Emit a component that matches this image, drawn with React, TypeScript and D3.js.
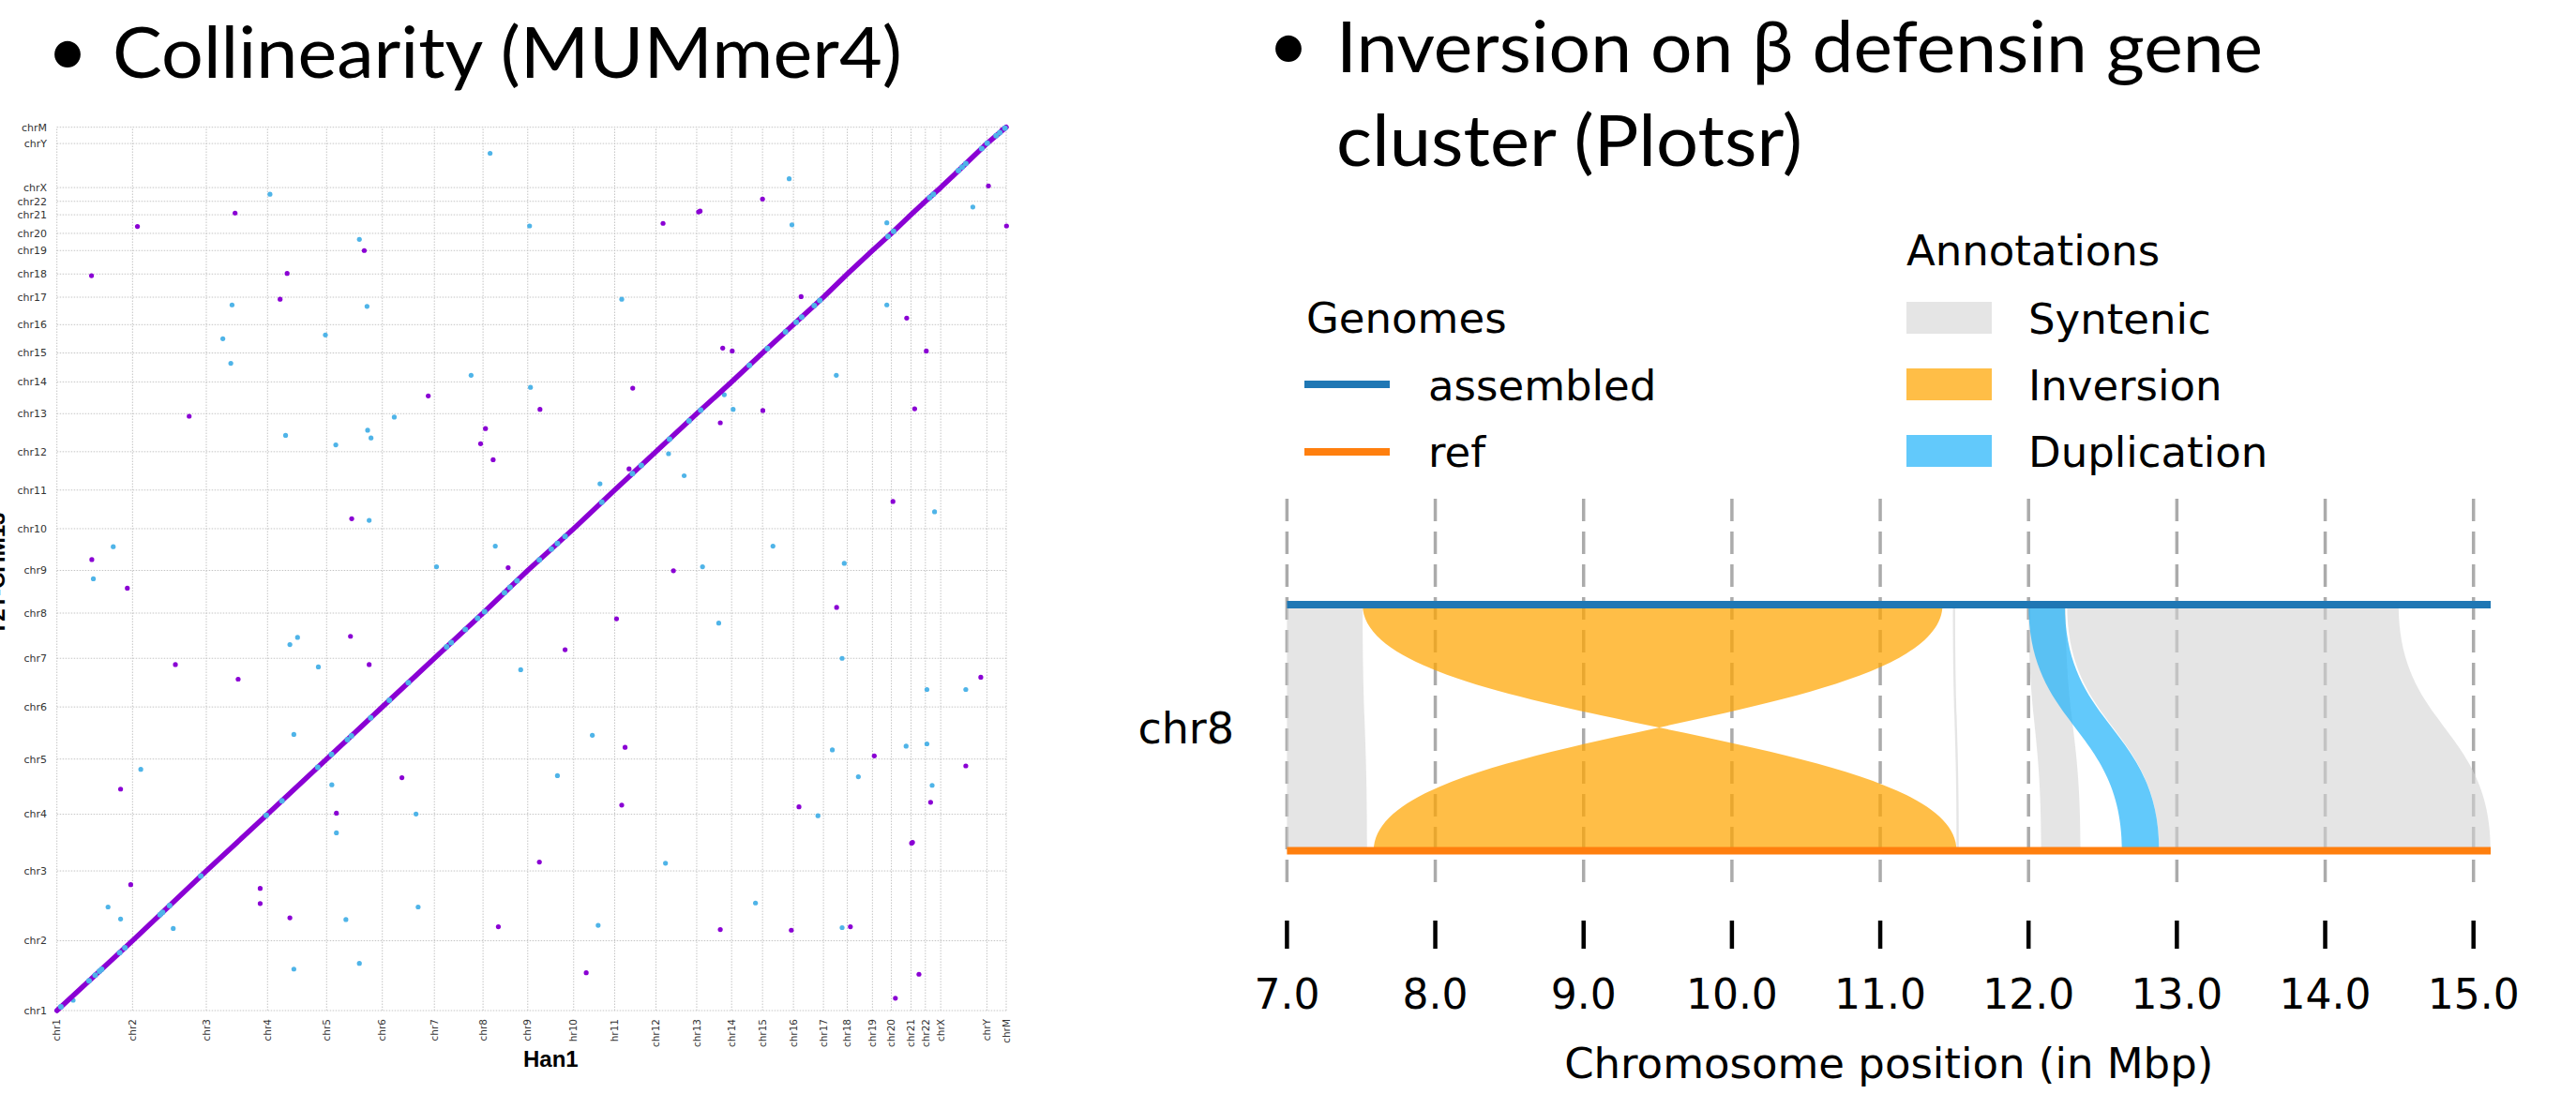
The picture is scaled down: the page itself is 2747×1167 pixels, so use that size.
import React from 'react';
import * as d3 from 'd3';

// ---------------- Left panel: MUMmer4 dot plot ----------------
const xChromLabels = ['chr1','chr2','chr3','chr4','chr5','chr6','chr7','chr8','chr9','hr10','hr11','chr12','chr13','chr14','chr15','chr16','chr17','chr18','chr19','chr20','chr21','chr22','chrX','chrY','chrM'];
const xChromLens = [247,241,200,193,182,170,159,146,150,134,135,133,114,101,101,98,78,82,62,64,47,50,151,63];
const yChromLabels = ['chr1','chr2','chr3','chr4','chr5','chr6','chr7','chr8','chr9','chr10','chr11','chr12','chr13','chr14','chr15','chr16','chr17','chr18','chr19','chr20','chr21','chr22','chrX','chrY','chrM'];
const yChromLens = [244,244,198,193,182,170,158,149,146,135,134,133,111,101,99,96,81,82,60,65,47,48,154,57];

// off-diagonal alignments, [Han1 Mb, reference Mb] (cumulative)
const blueDots: [number, number][] = [
  [696,2853],[988,2695],[572,2466],[1013,2461],[542,2348],[877,2361],[568,2262],[1102,2074],[747,2010],[1015,2028],[1026,2001],[911,1977],[1020,1713],[184,1621],[1240,1551],[119,1509],
  [761,1279],[786,1304],[854,1201],[774,965],[274,843],[898,789],[1173,687],[913,621],[167,362],[208,320],[380,287],[944,318],[1180,362],[988,165],[774,145],[53,36],
  [1415,2996],[1544,2742],[2392,2907],[2401,2746],[2711,2753],[2992,2808],[1845,2486],[2711,2466],[1353,2220],[1547,2178],[2546,2220],[2180,2152],[2209,2101],[1998,1946],[2049,1869],[1774,1841],[1432,1623],[2339,1623],[2572,1563],[2109,1551],[2867,1743],
  [2162,1354],[2565,1231],[1515,1191],[2842,1122],[2969,1122],[1749,962],[2533,911],[2774,924],[2842,932],[1635,821],[2618,817],[2859,787],[2486,681],[1988,515],[2282,376],[1768,298],[2565,290]
];
const purpleDots: [number, number][] = [
  [582,2787],[263,2740],[1004,2656],[113,2568],[752,2576],[729,2486],[1213,2148],[432,2077],[963,1719],[114,1576],
  [230,1476],[387,1209],[592,1158],[959,1308],[1020,1209],[1127,814],[208,774],[913,690],[241,440],[664,427],[664,374],[761,324],
  [2305,2836],[2096,2791],[2101,2794],[1980,2751],[3043,2882],[3102,2742],[2431,2495],[2776,2420],[2175,2315],[2206,2305],[2840,2305],[1881,2175],[1578,2101],[2306,2097],[2802,2103],[2167,2054],[1400,2034],[1384,1981],[1425,1925],[1869,1893],[2731,1779],[1474,1548],[2014,1537],
  [2547,1409],[1828,1369],[1660,1261],[3018,1165],[1856,920],[2670,890],[2969,855],[2854,728],[1845,718],[2424,712],[2792,585],[2795,588],[1576,519],[1442,293],[2167,283],[2399,281],[2592,293],[1729,132],[2816,127],[2739,43],
  [3088,3078],[3095,3083],[3099,3086]
];
// duplicated segments lying on the diagonal (Han1 Mb)
const diagBlueX = [13,105,125,139,146,205,222,337,345,368,470,684,735,852,897,949,962,1025,1086,1148,1273,1288,1334,1374,1397,1462,1480,1503,1576,1615,1635,1660,1780,1880,1909,2001,2065,2103,2262,2321,2380,2415,2433,2474,2492,2715,2733,2851,2863,2945,2957,2969,3021,3039,3068,3080,3097];

// ---------------- Right panel: plotsr ----------------
const rTicks = [7, 8, 9, 10, 11, 12, 13, 14, 15];
const chromEnd = 15.116;
const synRibbons = [
  { top: [7.0, 7.51], bot: [7.0, 7.54] },
  { top: [11.49, 11.505], bot: [11.515, 11.53] },
  { top: [12.0, 12.25], bot: [12.085, 12.35] },
  { top: [12.26, 14.495], bot: [12.88, 15.116] },
];
const invRibbons = [{ top: [7.51, 11.42], bot: [7.585, 11.515] }];
const dupRibbons = [{ top: [12.0, 12.245], bot: [12.63, 12.88] }];
const genomeNames = ['assembled', 'ref'];
const genomeColors = ['#1f77b4', '#ff7f0e'];
const annoNames = ['Syntenic', 'Inversion', 'Duplication'];

const PURPLE = '#8a00d4';
const BLUE = '#4fb4e8';
const SYN = '#d3d3d3';
const INV = '#ffa500';
const DUP = '#1fb2fa';

export default function App() {
  // left scales
  const xStarts = Array.from(d3.cumsum([0, ...xChromLens]));
  const yStarts = Array.from(d3.cumsum([0, ...yChromLens]));
  const xL = d3.scaleLinear().domain([0, xStarts[xStarts.length - 1]]).range([60.7, 1073]);
  const yL = d3.scaleLinear().domain([0, yStarts[yStarts.length - 1]]).range([1078, 135.7]);
  const diagPts: [number, number][] = xStarts.map((x, i) => [x, yStarts[i]]);
  const diagLine = d3.line<[number, number]>().x(d => xL(d[0])).y(d => yL(d[1]));
  const diagY = (x: number) => {
    let i = d3.bisectRight(xStarts, x) - 1;
    i = Math.max(0, Math.min(i, xChromLens.length - 1));
    const t = (x - xStarts[i]) / xChromLens[i];
    return yStarts[i] + t * yChromLens[i];
  };

  // right scales
  const xR = d3.scaleLinear().domain([7, 15]).range([1372.4, 2637.7]);
  const yTop = 645, yBot = 907.4;
  const ym = (yTop + yBot) / 2;
  const ribbon = (top: number[], bot: number[], inverted = false) => {
    const p = d3.path();
    const [a, b] = top; const [c, d] = bot;
    if (!inverted) {
      p.moveTo(xR(a), yTop); p.lineTo(xR(b), yTop);
      p.bezierCurveTo(xR(b), ym, xR(d), ym, xR(d), yBot);
      p.lineTo(xR(c), yBot);
      p.bezierCurveTo(xR(c), ym, xR(a), ym, xR(a), yTop);
    } else {
      p.moveTo(xR(a), yTop); p.lineTo(xR(b), yTop);
      p.bezierCurveTo(xR(b), ym, xR(c), ym, xR(c), yBot);
      p.lineTo(xR(d), yBot);
      p.bezierCurveTo(xR(d), ym, xR(a), ym, xR(a), yTop);
    }
    p.closePath();
    return p.toString();
  };
  const fmt = d3.format('.1f');
  const sans = 'DejaVu Sans';

  return (
    <div style={{ position: 'absolute', left: 0, top: 0 }}>
      <svg width={2747} height={1167} style={{ display: 'block', background: '#fff' }}>
        {/* titles */}
        <text x={72} y={80} fontFamily="Lato" fontSize={75} textAnchor="middle">•</text>
        <text x={120} y={83} fontFamily="Lato" fontSize={75} textLength={842} lengthAdjust="spacingAndGlyphs">Collinearity (MUMmer4)</text>
        <text x={1374} y={74} fontFamily="Lato" fontSize={75} textAnchor="middle">•</text>
        <text x={1425} y={77} fontFamily="Lato" fontSize={75} textLength={988} lengthAdjust="spacingAndGlyphs">Inversion on β defensin gene</text>
        <text x={1425} y={177} fontFamily="Lato" fontSize={75} textLength={497} lengthAdjust="spacingAndGlyphs">cluster (Plotsr)</text>

        {/* ---------- left dot plot ---------- */}
        <g>
          {xStarts.map((x, i) => (
            <line key={'gx' + i} x1={xL(x)} x2={xL(x)} y1={yL(0)} y2={yL(yStarts[yStarts.length - 1])} stroke="#c4c4c4" strokeWidth={1} strokeDasharray="1.5 1.5" />
          ))}
          {yStarts.map((y, i) => (
            <line key={'gy' + i} x1={xL(0)} x2={xL(xStarts[xStarts.length - 1])} y1={yL(y)} y2={yL(y)} stroke="#c4c4c4" strokeWidth={1} strokeDasharray="1.5 1.5" />
          ))}
          {purpleDots.map((d, i) => (
            <circle key={'p' + i} cx={xL(d[0])} cy={yL(d[1])} r={2.6} fill={PURPLE} />
          ))}
          {blueDots.map((d, i) => (
            <circle key={'b' + i} cx={xL(d[0])} cy={yL(d[1])} r={2.6} fill={BLUE} />
          ))}
          <path d={diagLine(diagPts) || ''} fill="none" stroke={PURPLE} strokeWidth={5.5} strokeLinecap="round" strokeLinejoin="round" />
          {diagBlueX.map((x, i) => (
            <circle key={'db' + i} cx={xL(x)} cy={yL(diagY(x))} r={3} fill={BLUE} />
          ))}
          {yChromLabels.map((lab, i) => (
            <text key={'yl' + i} x={50} y={yL(yStarts[i])} dy="0.35em" textAnchor="end" fontFamily={sans} fontSize={11} fill="#333">{lab}</text>
          ))}
          {xChromLabels.map((lab, i) => (
            <text key={'xl' + i} transform={`translate(${xL(xStarts[i])},1087) rotate(-90)`} dy="0.35em" textAnchor="end" fontFamily={sans} fontSize={10.5} fill="#333">{lab}</text>
          ))}
          <text x={558} y={1138} fontFamily="Liberation Sans" fontWeight="bold" fontSize={24} fill="#000">Han1</text>
          <text transform="translate(5,612) rotate(-90)" textAnchor="middle" fontFamily="Liberation Sans" fontWeight="bold" fontSize={24} fill="#000">T2T-CHM13</text>
        </g>

        {/* ---------- right plotsr panel ---------- */}
        <g>
          {rTicks.map(t => (
            <line key={'dg' + t} x1={xR(t)} x2={xR(t)} y1={532} y2={952} stroke="#ababab" strokeWidth={3.5} strokeDasharray="24 11" />
          ))}
          {synRibbons.map((r, i) => (
            <path key={'syn' + i} d={ribbon(r.top, r.bot)} fill={SYN} fillOpacity={0.6} />
          ))}
          {invRibbons.map((r, i) => (
            <path key={'inv' + i} d={ribbon(r.top, r.bot, true)} fill={INV} fillOpacity={0.72} />
          ))}
          {dupRibbons.map((r, i) => (
            <path key={'dup' + i} d={ribbon(r.top, r.bot)} fill={DUP} fillOpacity={0.7} />
          ))}
          <line x1={xR(7)} x2={xR(chromEnd)} y1={yTop} y2={yTop} stroke={genomeColors[0]} strokeWidth={8} />
          <line x1={xR(7)} x2={xR(chromEnd)} y1={yBot} y2={yBot} stroke={genomeColors[1]} strokeWidth={8} />
          {rTicks.map(t => (
            <g key={'tk' + t}>
              <line x1={xR(t)} x2={xR(t)} y1={982} y2={1012} stroke="#000" strokeWidth={4.5} />
              <text x={xR(t)} y={1076} textAnchor="middle" fontFamily={sans} fontSize={44} fill="#000">{fmt(t)}</text>
            </g>
          ))}
          <text x={(xR(7) + xR(chromEnd)) / 2} y={1150} textAnchor="middle" fontFamily={sans} fontSize={45} fill="#000">Chromosome position (in Mbp)</text>
          <text x={1316} y={793} textAnchor="end" fontFamily={sans} fontSize={46} fill="#000">chr8</text>

          {/* legend: genomes */}
          <text x={1393} y={355} fontFamily={sans} fontSize={45} fill="#000">Genomes</text>
          {genomeNames.map((g, i) => (
            <g key={'lg' + i}>
              <line x1={1391} x2={1482} y1={410 + i * 72} y2={410 + i * 72} stroke={genomeColors[i]} strokeWidth={8} />
              <text x={1523} y={427 + i * 71} fontFamily={sans} fontSize={45} fill="#000">{g}</text>
            </g>
          ))}
          {/* legend: annotations */}
          <text x={2033} y={283} fontFamily={sans} fontSize={45} fill="#000">Annotations</text>
          {annoNames.map((a, i) => (
            <g key={'la' + i}>
              <rect x={2033} y={322 + i * 71} width={91} height={34} fill={[SYN, INV, DUP][i]} fillOpacity={[0.6, 0.72, 0.7][i]} />
              <text x={2163} y={356 + i * 71} fontFamily={sans} fontSize={45} fill="#000">{a}</text>
            </g>
          ))}
        </g>
      </svg>
    </div>
  );
}
